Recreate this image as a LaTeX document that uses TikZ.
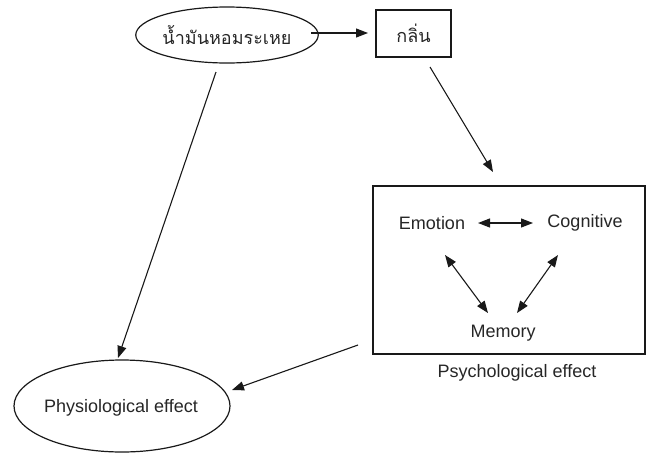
\documentclass[tikz,border=0pt]{standalone}
\usepackage{fontspec}
\setmainfont{Liberation Sans}
\newfontfamily\thaifont[Script=Thai]{Loma}
\usetikzlibrary{arrows.meta,shapes.geometric}
\begin{document}
\begin{tikzpicture}[x=1pt,y=-1pt,
  every node/.style={font=\fontsize{18}{21}\selectfont, text=black!85},
  conn/.style={draw=black!90, line width=1.1pt, -{Triangle[length=12pt,width=9pt]}},
  biconn/.style={draw=black!90, line width=1.1pt, {Triangle[length=12pt,width=9pt]}-{Triangle[length=12pt,width=9pt]}},
  shape line/.style={draw=black!90, line width=1.2pt}]
\useasboundingbox (0,0) rectangle (652,453);
% nodes
\node[shape line, ellipse, minimum width=160pt, minimum height=56pt, inner sep=0pt] (oil) at (227,35) {\thaifont\fontsize{18}{21}\selectfont น้ำมันหอมระเหย};
\node[shape line, rectangle, minimum width=75pt, minimum height=47pt, inner sep=0pt] (smell) at (413.5,33.5) {\thaifont\fontsize{18}{21}\selectfont กลิ่น};
\node[shape line, rectangle, minimum width=272pt, minimum height=168pt, inner sep=0pt] (psych) at (509,270) {};
\node[anchor=north] (psychlabel) at (517,361) {Psychological effect};
\node (emo) at (432,223) {Emotion};
\node (cog) at (585,223) {Cognitive};
\node (mem) at (503,333) {Memory};
\node[shape line, ellipse, minimum width=216pt, minimum height=92pt, inner sep=0pt] (physio) at (122,406) {};
\node (physiolabel) at (121,408) {Physiological effect};
% connector end points
\coordinate (oilA) at (216,72);
\coordinate (physA) at (118,358);
\coordinate (smellA) at (430,67);
\coordinate (psychA) at (493,172);
\coordinate (psychB) at (358,345);
\coordinate (physB) at (232,390);
\coordinate (emoA) at (445,255);
\coordinate (memA) at (488,313);
\coordinate (cogA) at (558,255);
\coordinate (memB) at (517,313);
\coordinate (emoB) at (478,223);
\coordinate (cogB) at (533,223);
\coordinate (oilB) at (311,33);
\coordinate (smellB) at (368,33);
% connectors
\draw[conn] (oilB) -- (smellB);
\draw[conn] (smellA) -- (psychA);
\draw[conn] (oilA) -- (physA);
\draw[conn] (psychB) -- (physB);
\draw[biconn] (emoB) -- (cogB);
\draw[biconn] (emoA) -- (memA);
\draw[biconn] (cogA) -- (memB);
\end{tikzpicture}
\end{document}
